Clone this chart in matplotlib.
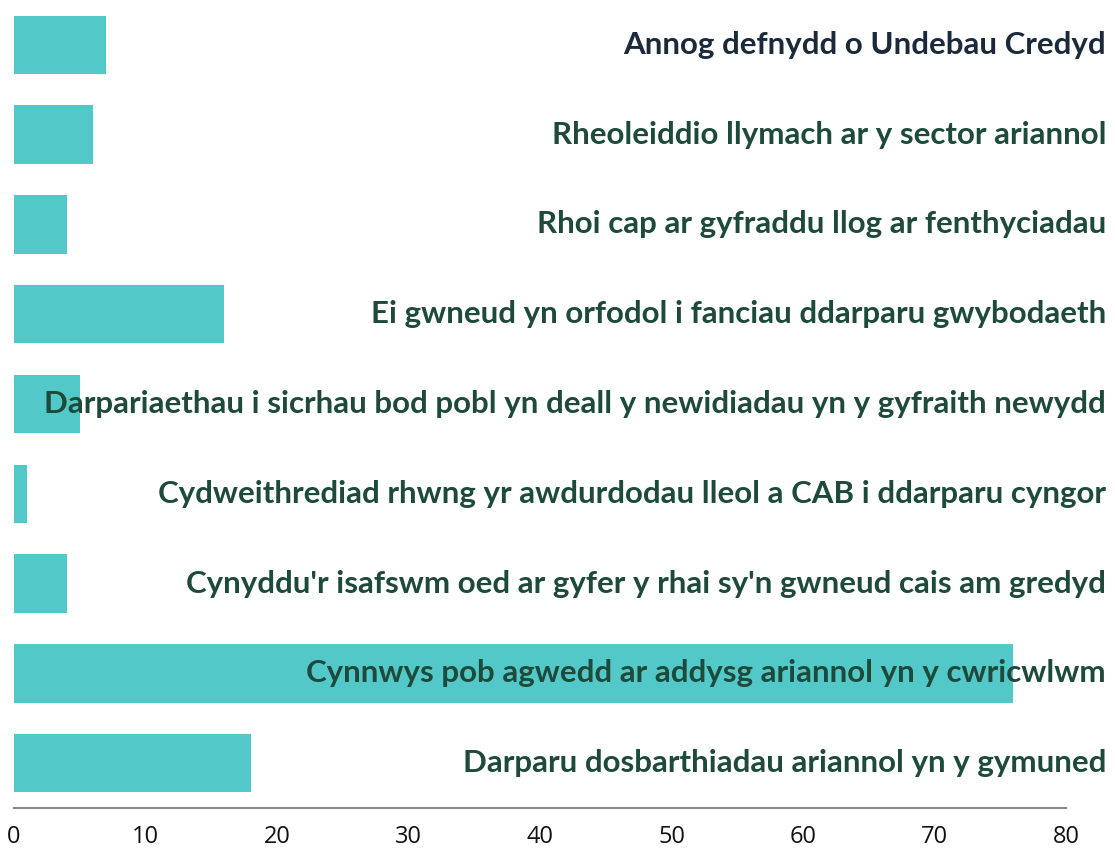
import matplotlib
matplotlib.use("Agg")
import matplotlib.pyplot as plt
from matplotlib.transforms import blended_transform_factory

categories = [
    "Annog defnydd o Undebau Credyd",
    "Rheoleiddio llymach ar y sector ariannol",
    "Rhoi cap ar gyfraddu llog ar fenthyciadau",
    "Ei gwneud yn orfodol i fanciau ddarparu gwybodaeth",
    "Darpariaethau i sicrhau bod pobl yn deall y newidiadau yn y gyfraith newydd",
    "Cydweithrediad rhwng yr awdurdodau lleol a CAB i ddarparu cyngor",
    "Cynyddu'r isafswm oed ar gyfer y rhai sy'n gwneud cais am gredyd",
    "Cynnwys pob agwedd ar addysg ariannol yn y cwricwlwm",
    "Darparu dosbarthiadau ariannol yn y gymuned",
]
values = [7, 6, 4, 16, 5, 1, 4, 76, 18]
xticks = [0, 10, 20, 30, 40, 50, 60, 70, 80]

fig = plt.figure(figsize=(11.15, 8.55), dpi=100)
ax = fig.add_axes([14/1115, 47/855, (1066-14)/1115, 808/855])

pos = list(range(len(categories)))
ax.barh(pos, values, height=0.65, color="#52C9C8", zorder=1)
ax.set_ylim(len(categories) - 0.5, -0.5)
ax.set_xlim(0, 80)
ax.set_xticks(xticks)
ax.set_xticklabels([str(t) for t in xticks], fontsize=17, family="Open Sans", color="#111111")
ax.tick_params(axis="x", length=0, pad=12)
ax.set_yticks([])
for s in ["top", "right", "left"]:
    ax.spines[s].set_visible(False)
ax.spines["bottom"].set_color("#888888")
ax.spines["bottom"].set_linewidth(1.5)

trans = blended_transform_factory(fig.transFigure, ax.transData)
colors = ["#1b2a3a"] + ["#1d4a3a"] * (len(categories) - 1)
for i, (cat, c) in enumerate(zip(categories, colors)):
    ax.text(1106/1115, i, cat, transform=trans,
            ha="right", va="center", fontsize=22.5, fontweight="bold", family="Lato", color=c, zorder=3)

fig.savefig("out.png", dpi=100)
